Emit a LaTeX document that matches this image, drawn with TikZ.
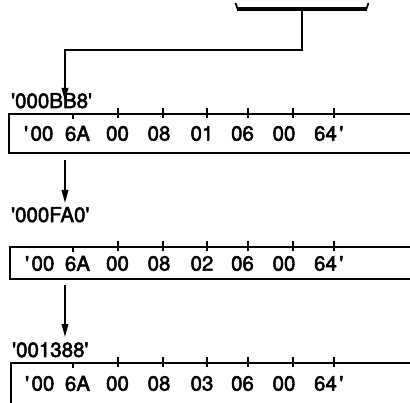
\documentclass[tikz,border=0pt]{standalone}
\usepackage{fontspec}
\setmainfont{TeX Gyre Heros}[FakeBold=2.5]
\usetikzlibrary{arrows.meta}
\newcommand{\q}{\textquotesingle}
\tikzset{
  wire/.style={line width=1.7pt},
  feed/.style={wire,-{Triangle[length=13pt,width=6.5pt]}},
  tickmark/.style={line width=1.5pt},
  hexbyte/.style={font=\fontsize{20.5}{22}\selectfont,inner sep=0pt},
  addr/.style={hexbyte,anchor=base west}
}
\begin{document}
\begin{tikzpicture}[x=1pt,y=-1pt]
\useasboundingbox (0,0) rectangle (410,403);

% source bracket at the top
\draw[line width=4pt] (237,9.5) -- (367,9.5);
\draw[wire] (235.5,3) -- (238,10) (368.5,3) -- (366,10);
\coordinate (src) at (302,11);
\coordinate (bend) at (302,50);
\coordinate (turn) at (65,50);
\coordinate (in1) at (65,101);
\draw[feed] (src) -- (bend) -- (turn) -- (in1);

% first record
\node[addr] (a1) at (11,108) {\q000BB8\q};
\draw[wire] (410,114) -| (9,153) -- (410,153);
\draw[tickmark] (73,114) -- (73,119);
\foreach \x in {118,163,207,248,293,334} \draw[tickmark] (\x,108) -- (\x,118);
\foreach \x/\v [count=\i] in {42/{\llap{\q\kern2.5pt}00},77.5/6A,117.5/00,159/08,202/01,242.5/06,284/00,325.5/{64\rlap{\kern2.5pt\q}}}
  \node[hexbyte] (r1b\i) at (\x,133.5) {\v};

\coordinate (out1) at (65,160);
\coordinate (in2) at (65,203);
\draw[feed] (out1) -- (in2);

% second record
\node[addr] (a2) at (11,222) {\q000FA0\q};
\draw[wire] (410,247) -| (10,279) -- (410,279);
\draw[tickmark] (73,247) -- (73,252);
\foreach \x in {118,163,207,248,293,334} \draw[tickmark] (\x,241) -- (\x,251);
\foreach \x/\v [count=\i] in {43/{\llap{\q\kern2.5pt}00},77.5/6A,117.5/00,159/08,202/02,242.5/06,284/00,325.5/{64\rlap{\kern2.5pt\q}}}
  \node[hexbyte] (r2b\i) at (\x,263.5) {\v};

\coordinate (out2) at (65,285);
\coordinate (in3) at (65,337);
\draw[feed] (out2) -- (in3);

% third record
\node[addr] (a3) at (12,357) {\q001388\q};
\draw[wire] (410,363) -| (11,403);
\draw[tickmark] (73,363) -- (73,368);
\foreach \x in {118,163,207,248,293,334} \draw[tickmark] (\x,357) -- (\x,367);
\foreach \x/\v [count=\i] in {43/{\llap{\q\kern2.5pt}00},77.5/6A,117.5/00,159/08,202/03,242.5/06,284/00,325.5/{64\rlap{\kern2.5pt\q}}}
  \node[hexbyte] (r3b\i) at (\x,383.5) {\v};

\end{tikzpicture}
\end{document}
